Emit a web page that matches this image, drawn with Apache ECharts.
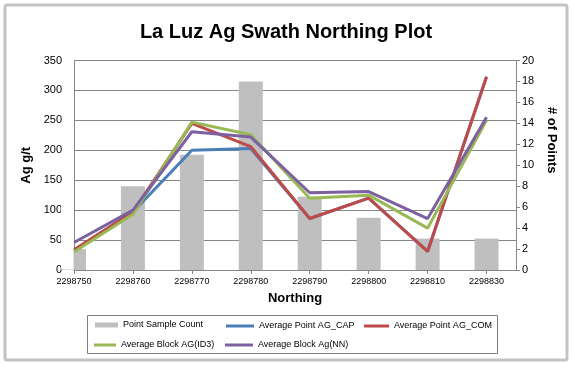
<!DOCTYPE html>
<html>
<head>
<meta charset="utf-8">
<script src="https://cdn.jsdelivr.net/npm/echarts@6/dist/echarts.min.js"></script>
<style>html,body{margin:0;padding:0;background:#fff}#c{width:572px;height:365px}</style>
</head>
<body>
<div id="c"></div>
<script>
// ---- data ----
var categories = ['2298750','2298760','2298770','2298780','2298790','2298800','2298810','2298830'];
var pointSampleCount = [2, 8, 11, 18, 7, 5, 3, 3];
var avgPointAgCap = [33, 97, 200, 203, 86, 120, 31, 323];
var avgPointAgCom = [34, 97, 245, 206, 86, 120, 31, 323];
var avgBlockAgID3 = [30, 93, 247, 226, 120, 125, 70, 250];
var avgBlockAgNN = [46, 100, 231, 222, 129, 131, 86, 255];
var leftTicks = {min: 0, max: 350, interval: 50};
var rightTicks = {min: 0, max: 20, interval: 2};

function pairs(arr){ return arr.map(function(v,i){ return [i, v]; }); }
var idx = categories.map(function(_,i){ return i; });

var FONT = 'Liberation Sans';
var AX = '#868686';
var chart = echarts.init(document.getElementById('c'), null, {renderer:'canvas'});
function lineSeries(name, data, color){
  return {name:name, type:'line', yAxisIndex:0, data:pairs(data), symbol:'none', showSymbol:false,
    lineStyle:{width:3, color:color}, itemStyle:{color:color}, clip:false, z:3};
}
function legendAt(name, left, top, w, h){
  return {data:[{name:name, icon:'rect'}], left:left, top:top, itemWidth:w, itemHeight:h,
    padding:0, itemGap:0, textStyle:{fontFamily:FONT, fontSize:9, color:'#000'}, selectedMode:false};
}
chart.setOption({
  animation:false,
  title:{text:'La Luz Ag Swath Northing Plot', left:'center', top:17,
    textStyle:{fontFamily:FONT, fontSize:20, fontWeight:'bold', color:'#000'}},
  grid:{left:74, right:56, top:60.5, bottom:95},
  graphic:[
    {type:'rect', shape:{x:5, y:5, width:562, height:355, r:2}, style:{fill:null, stroke:'#c3c3c3', lineWidth:3}, silent:true, z:100},
    {type:'rect', shape:{x:87.5, y:315.5, width:410, height:38}, style:{fill:null, stroke:'#808080', lineWidth:1}, silent:true, z:100},
    // mask the half of the first bar that lies outside the plot area
    {type:'rect', shape:{x:61, y:200, width:12.5, height:69.5}, style:{fill:'#fff'}, silent:true, z:100}
  ],
  legend:[
    legendAt('Point Sample Count', 95, 320.5, 23, 5),
    legendAt('Average Point AG_CAP', 226, 321.5, 28, 3),
    legendAt('Average Point AG_COM', 364, 321.5, 25, 3),
    legendAt('Average Block AG(ID3)', 94, 340.5, 22, 3),
    legendAt('Average Block Ag(NN)', 225, 340.5, 28, 3)
  ],
  xAxis:{type:'value', min:0, max:7.5, interval:1,
    name:'Northing', nameLocation:'middle', nameGap:22,
    nameTextStyle:{fontFamily:FONT, fontSize:13, fontWeight:'bold', color:'#000'},
    axisLine:{show:true, lineStyle:{color:AX, width:1}},
    axisTick:{show:true, length:4, inside:false, customValues:idx, lineStyle:{color:AX}},
    axisLabel:{customValues:idx, formatter:function(v){ return categories[Math.round(v)] || ''; },
      fontFamily:FONT, fontSize:9, color:'#000', margin:7},
    splitLine:{show:false}},
  yAxis:[
    {type:'value', min:leftTicks.min, max:leftTicks.max, interval:leftTicks.interval, position:'left',
      name:'Ag g/t', nameLocation:'middle', nameGap:34, nameRotate:90,
      nameTextStyle:{fontFamily:FONT, fontSize:13, fontWeight:'bold', color:'#000'},
      axisLine:{show:true, lineStyle:{color:AX}}, axisTick:{show:false},
      axisLabel:{fontFamily:FONT, fontSize:11, color:'#000', margin:12},
      splitLine:{show:true, lineStyle:{color:AX, width:1}}},
    {type:'value', min:rightTicks.min, max:rightTicks.max, interval:rightTicks.interval, position:'right',
      name:'# of Points', nameLocation:'middle', nameGap:22, nameRotate:-90,
      nameTextStyle:{fontFamily:FONT, fontSize:13, fontWeight:'bold', color:'#000', padding:[0,50,0,0]},
      axisLine:{show:true, lineStyle:{color:AX}}, axisTick:{show:true, length:4, lineStyle:{color:AX}},
      axisLabel:{fontFamily:FONT, fontSize:11, color:'#000', margin:6},
      splitLine:{show:false}}
  ],
  series:[
    {name:'Point Sample Count', type:'bar', yAxisIndex:1, data:pairs(pointSampleCount), barWidth:24,
      itemStyle:{color:'#bfbfbf'}, clip:true, z:2},
    lineSeries('Average Point AG_CAP', avgPointAgCap, '#4a7ebb'),
    lineSeries('Average Point AG_COM', avgPointAgCom, '#be4b48'),
    lineSeries('Average Block AG(ID3)', avgBlockAgID3, '#98b954'),
    lineSeries('Average Block Ag(NN)', avgBlockAgNN, '#7d60a0')
  ]
});
</script>
</body>
</html>
